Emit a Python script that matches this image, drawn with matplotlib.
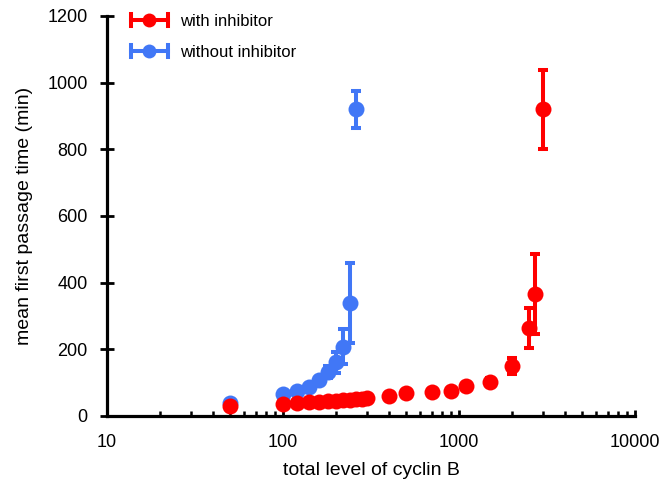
import matplotlib
matplotlib.use("Agg")
import matplotlib.pyplot as plt
from matplotlib.legend_handler import HandlerBase
from matplotlib.lines import Line2D
from matplotlib.ticker import LogLocator, NullFormatter, FixedLocator, FixedFormatter

plt.rcParams['font.family'] = ['Liberation Sans', 'DejaVu Sans']

# cyclin B level vs. mean first passage time
with_x = [50, 100, 120, 140, 160, 180, 200, 220, 240, 260, 280, 300,
          400, 500, 700, 900, 1100, 1500, 2000, 2500, 2700, 3000]
with_y = [30, 37, 39, 41, 42, 44, 45, 47, 48, 50, 52, 54,
          60, 68, 72, 75, 90, 101, 150, 265, 365, 920]
with_err = [3, 2, 2, 2, 2, 2, 2, 2, 3, 3, 3, 3,
            4, 5, 5, 6, 8, 12, 25, 60, 120, 118]

without_x = [50, 100, 120, 140, 160, 180, 200, 220, 240, 260]
without_y = [40, 65, 76, 88, 107, 131, 161, 208, 340, 920]
without_err = [3, 5, 6, 8, 10, 18, 32, 53, 120, 55]

series_labels = ['with inhibitor', 'without inhibitor']
x_ticks = [10, 100, 1000, 10000]
x_tick_labels = ['10', '100', '1000', '10000']
y_ticks = [0, 200, 400, 600, 800, 1000, 1200]

RED = '#ff0000'
BLUE = '#4177f6'
LW = 2.9

fig = plt.figure(figsize=(6.59, 4.88), dpi=100)
ax = fig.add_axes([107 / 659, 1 - 416 / 488, (635 - 107) / 659, (416 - 16) / 488])

style = dict(fmt='o', markersize=11.5, elinewidth=LW, capsize=3.9, capthick=LW)
for xs, ys, es, col, z in [(without_x, without_y, without_err, BLUE, 3),
                           (with_x, with_y, with_err, RED, 4)]:
    line, caps, bars = ax.errorbar(xs, ys, yerr=es, color=col, zorder=z, **style)
    line.set_markeredgewidth(0)

ax.set_xscale('log')
ax.set_xlim(10, 10000)
ax.set_ylim(0, 1200)
ax.xaxis.set_major_locator(FixedLocator(x_ticks))
ax.xaxis.set_major_formatter(FixedFormatter(x_tick_labels))
ax.xaxis.set_minor_locator(LogLocator(base=10, subs=range(2, 10)))
ax.xaxis.set_minor_formatter(NullFormatter())
ax.set_yticks(y_ticks)

for side in ('top', 'right'):
    ax.spines[side].set_visible(False)
for side in ('left', 'bottom'):
    ax.spines[side].set_linewidth(2.3)
    ax.spines[side].set_capstyle('projecting')

ax.tick_params(axis='x', which='major', direction='in', length=4, width=2,
               labelsize=13, pad=13)
ax.tick_params(axis='x', which='minor', direction='in', length=3.5, width=1.8)
ax.tick_params(axis='y', which='major', direction='inout', length=10, width=2,
               labelsize=13, pad=9)

ax.set_xlabel('total level of cyclin B', fontsize=14, labelpad=8)
ax.set_ylabel('mean first passage time (min)', fontsize=14, labelpad=10)


class CappedBarHandler(HandlerBase):
    """Legend key: horizontal bar with end caps and a dot in the middle."""

    def create_artists(self, legend, orig_handle, xdescent, ydescent,
                       width, height, fontsize, trans):
        color = orig_handle.get_color()
        yc = height / 2 - ydescent
        x0, x1 = -xdescent, -xdescent + width
        cap = 4.3
        bar = Line2D([x0, x1], [yc, yc], color=color, lw=LW, transform=trans)
        c0 = Line2D([x0, x0], [yc - cap, yc + cap], color=color, lw=LW, transform=trans)
        c1 = Line2D([x1, x1], [yc - cap, yc + cap], color=color, lw=LW, transform=trans)
        dot = Line2D([(x0 + x1) / 2], [yc], marker='o', markersize=10,
                     markeredgewidth=0, color=color, linestyle='none', transform=trans)
        return [bar, c0, c1, dot]


handles = [Line2D([], [], color=RED), Line2D([], [], color=BLUE)]
leg = ax.legend(handles, series_labels, loc='upper left',
                bbox_to_anchor=(131 / 659, 1 - 14 / 488), bbox_transform=fig.transFigure,
                frameon=False, fontsize=12, handlelength=2.2, handletextpad=0.75,
                labelspacing=0.97, borderpad=0, borderaxespad=0,
                handler_map={Line2D: CappedBarHandler()})

fig.savefig('out.png', dpi=100)
